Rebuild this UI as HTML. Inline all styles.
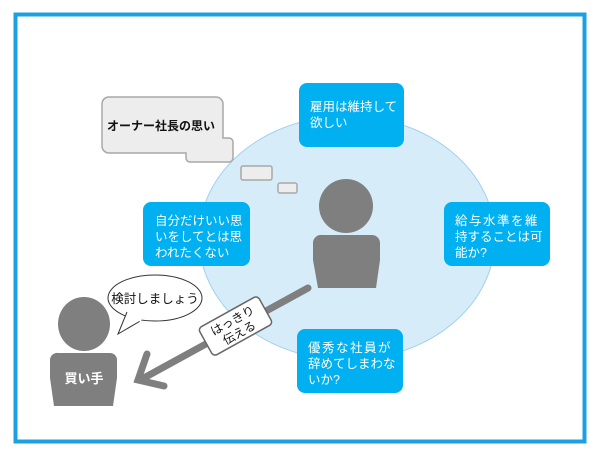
<!DOCTYPE html>
<html><head><meta charset="utf-8"><style>
html,body{margin:0;padding:0;background:#fff}
svg{display:block}
text{font-family:"Liberation Sans","Noto Sans CJK JP",sans-serif}
</style></head><body>
<svg width="600" height="453" viewBox="0 0 600 453" xmlns="http://www.w3.org/2000/svg">
<rect x="0" y="0" width="600" height="453" fill="#fff"/>
<rect x="15.5" y="14.5" width="569" height="427" fill="#fff" stroke="#1ba1e2" stroke-width="4"/>
<ellipse cx="347" cy="238" rx="148" ry="122" fill="#d6ecf9" stroke="#9fd0ee" stroke-width="1"/>
<!-- thought bubble -->
<path d="M108,97 H216 a7,7 0 0 1 7,7 V138 H229 a4,4 0 0 1 4,4 V158 a4,4 0 0 1 -4,4 H190 a4,4 0 0 1 -4,-4 V153 H109 a7,7 0 0 1 -7,-7 V104 a7,7 0 0 1 6,-7Z" fill="#ededed" stroke="#a8a8a8" stroke-width="1.5"/>
<text x="107" y="130" font-size="12" font-weight="bold" fill="#111">オーナー社長の思い</text>
<rect x="241" y="166" width="31" height="14" rx="2" fill="#ededed" stroke="#a8a8a8" stroke-width="1.5"/>
<rect x="278" y="183" width="19" height="10" rx="2" fill="#ededed" stroke="#a8a8a8" stroke-width="1.5"/>
<!-- boxes -->
<g fill="#00b0f0">
<rect x="299" y="83" width="105" height="64" rx="8"/>
<rect x="444" y="202" width="106" height="64" rx="8"/>
<rect x="143" y="202" width="107" height="64" rx="8"/>
<rect x="297" y="329" width="106" height="64" rx="8"/>
</g>
<g fill="#fff" font-size="12.5">
<text x="310" y="111">雇用は維持して</text><text x="310" y="127">欲しい</text>
<text x="455" y="225" letter-spacing="1.5">給与水準を維</text><text x="455" y="241">持することは可</text><text x="455" y="257">能か?</text>
<text x="155" y="225">自分だけいい思</text><text x="155" y="241">いをしてとは思</text><text x="155" y="257">われたくない</text>
<text x="308" y="352" letter-spacing="1.5">優秀な社員が</text><text x="308" y="368">辞めてしまわな</text><text x="308" y="384">いか?</text>
</g>
<!-- central person -->
<g fill="#7f7f7f">
<ellipse cx="346" cy="206" rx="27" ry="27"/>
<path d="M322,235 H372 a8,8 0 0 1 8,8 V260 L376,288 H318 L313,260 V243 a8,8 0 0 1 9,-8Z"/>
<!-- buyer -->
<ellipse cx="84" cy="324" rx="26" ry="27"/>
<path d="M58,353 H110 a7,7 0 0 1 7,7 V378 L113,406 H54 L50,378 V360 a7,7 0 0 1 8,-7Z"/>
</g>
<text x="84" y="383" font-size="13" font-weight="bold" fill="#fff" text-anchor="middle">買い手</text>
<!-- arrow -->
<g stroke="#7f7f7f" stroke-width="7" stroke-linecap="round" fill="none">
<line x1="308" y1="288" x2="142" y2="379"/>
<polyline points="147,354 138,380 164,386"/>
</g>
<g transform="translate(235.5,326) rotate(-29)">
<rect x="-34" y="-16" width="68" height="32" rx="4" fill="#fff" stroke="#666" stroke-width="1.5"/>
<text x="0" y="-2" font-size="12" text-anchor="middle" fill="#111">はっきり</text>
<text x="0" y="12" font-size="12" text-anchor="middle" fill="#111">伝える</text>
</g>
<!-- speech bubble -->
<ellipse cx="155" cy="298" rx="47" ry="23" fill="#fff" stroke="#333" stroke-width="1"/>
<path d="M127,312 L118,334 L142,320" fill="#fff" stroke="#333" stroke-width="1"/>
<path d="M128,310 L142,318 L141,322 L127,315Z" fill="#fff"/>
<text x="155" y="303" font-size="12.5" text-anchor="middle" fill="#111">検討しましょう</text>
</svg>
</body></html>
